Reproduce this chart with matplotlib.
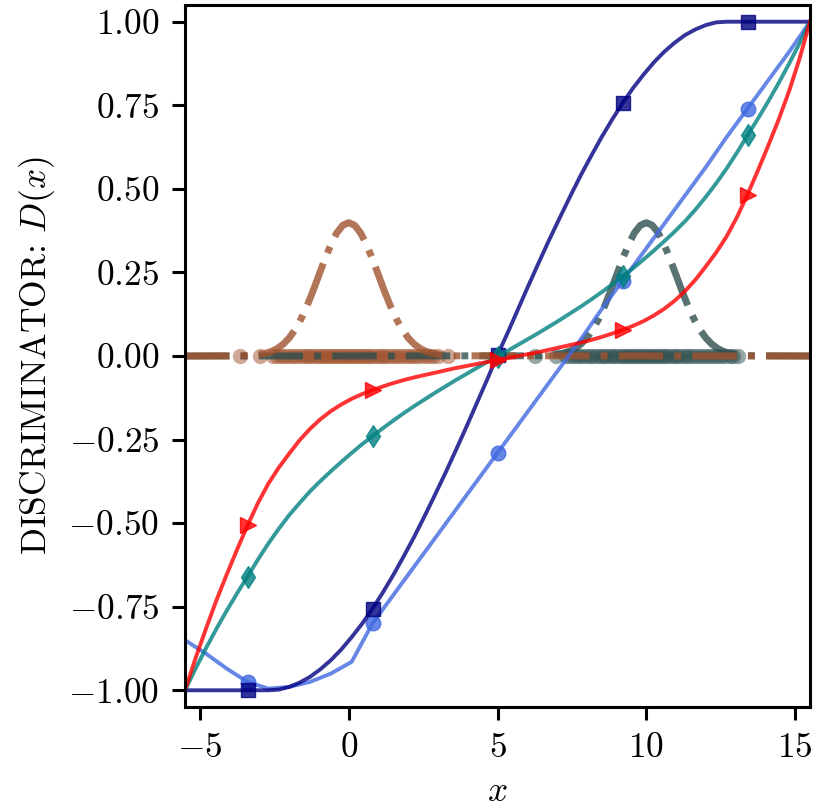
import numpy as np
import matplotlib
matplotlib.use("Agg")
import matplotlib.pyplot as plt

plt.rcParams['font.family'] = 'serif'
plt.rcParams['font.serif'] = ['cmr10']
plt.rcParams['mathtext.fontset'] = 'cm'
plt.rcParams['axes.formatter.use_mathtext'] = True
plt.rcParams['axes.unicode_minus'] = True

# ---- data ----
x_min, x_max = -5.5, 15.5
x_fine = np.linspace(x_min, x_max, 61)     # step 0.35
x_coarse = np.linspace(x_min, x_max, 31)   # step 0.7

d_lightblue = [-0.85, -0.89, -0.935, -0.975, -0.995, -0.99, -0.975, -0.95, -0.915, -0.80,
               -0.715, -0.63, -0.545, -0.46, -0.375, -0.29, -0.205, -0.12, -0.035, 0.05,
               0.14, 0.225, 0.31, 0.395, 0.48, 0.565, 0.655, 0.74, 0.825, 0.91, 1.0]

d_navy = [-1.0, -1.0, -1.0, -1.0, -1.0, -1.0, -1.0, -1.0, -1.0, -0.998,
          -0.990, -0.977, -0.960, -0.937, -0.910, -0.878, -0.841, -0.801, -0.756, -0.707,
          -0.655, -0.599, -0.541, -0.479, -0.415, -0.350, -0.282, -0.213, -0.142, -0.071,
          0.003,
          0.071, 0.142, 0.213, 0.282, 0.350, 0.415, 0.479, 0.541, 0.599, 0.655,
          0.707, 0.756, 0.801, 0.841, 0.878, 0.910, 0.937, 0.960, 0.977, 0.990,
          0.998, 1.0, 1.0, 1.0, 1.0, 1.0, 1.0, 1.0, 1.0, 1.0]

d_teal = [-1.0, -0.936, -0.875, -0.817, -0.762, -0.71, -0.66, -0.609, -0.561, -0.517,
          -0.476, -0.44, -0.405, -0.374, -0.345, -0.317, -0.29, -0.264, -0.24, -0.216,
          -0.193, -0.171, -0.15, -0.13, -0.11, -0.091, -0.072, -0.054, -0.036, -0.018,
          -0.002,
          0.016, 0.034, 0.052, 0.07, 0.089, 0.108, 0.128, 0.148, 0.169, 0.191,
          0.214, 0.238, 0.262, 0.288, 0.315, 0.343, 0.372, 0.403, 0.438, 0.476,
          0.517, 0.561, 0.609, 0.66, 0.71, 0.762, 0.817, 0.875, 0.936, 1.0]

d_red = [-1.0, -0.905, -0.817, -0.732, -0.654, -0.579, -0.507, -0.44, -0.382, -0.334,
         -0.292, -0.252, -0.218, -0.189, -0.165, -0.145, -0.128, -0.114, -0.102, -0.091,
         -0.081, -0.072, -0.064, -0.057, -0.05, -0.043, -0.036, -0.03, -0.024, -0.018,
         -0.012,
         -0.006, 0.0, 0.006, 0.012, 0.019, 0.026, 0.033, 0.04, 0.048, 0.057,
         0.067, 0.078, 0.09, 0.104, 0.121, 0.141, 0.165, 0.194, 0.228, 0.268,
         0.31, 0.358, 0.416, 0.483, 0.555, 0.63, 0.708, 0.793, 0.89, 1.0]

# density bumps (offset from the mean, height)
pdf_offsets = [-3.6, -3.4, -3.2, -3.0, -2.8, -2.6, -2.4, -2.2, -2.0, -1.8, -1.6, -1.4, -1.2,
               -1.0, -0.8, -0.6, -0.4, -0.2, 0.0, 0.2, 0.4, 0.6, 0.8, 1.0, 1.2, 1.4, 1.6,
               1.8, 2.0, 2.2, 2.4, 2.6, 2.8, 3.0, 3.2, 3.4, 3.6]
pdf_values = [0.0006, 0.0012, 0.0024, 0.0044, 0.0079, 0.0136, 0.0224, 0.0355, 0.054, 0.079,
              0.1109, 0.1497, 0.1942, 0.242, 0.2897, 0.3332, 0.3683, 0.391, 0.3989, 0.391,
              0.3683, 0.3332, 0.2897, 0.242, 0.1942, 0.1497, 0.1109, 0.079, 0.054, 0.0355,
              0.0224, 0.0136, 0.0079, 0.0044, 0.0024, 0.0012, 0.0006]
mean_generated = 0.0
mean_real = 10.0

samples_generated = [-3.65, -2.97, -2.55, -2.42, -2.29, -2.16, -2.03, -1.91, -1.79, -1.67,
                     -1.55, -1.44, -1.33, -1.22, -1.11, -1.0, -0.89, -0.79, -0.69, -0.59,
                     -0.49, -0.39, -0.29, -0.19, -0.09, 0.01, 0.11, 0.21, 0.31, 0.41, 0.51,
                     0.61, 0.72, 0.83, 0.94, 1.05, 1.16, 1.27, 1.39, 1.51, 1.63, 1.75, 1.88,
                     2.01, 2.14, 2.27, 2.41, 2.55, 2.69, 2.84, 3.0, 3.35]
samples_real = [6.25, 6.98, 7.3, 7.43, 7.56, 7.69, 7.82, 7.95, 8.07, 8.19, 8.31, 8.43,
                8.55, 8.66, 8.77, 8.88, 8.99, 9.1, 9.21, 9.31, 9.41, 9.51, 9.61, 9.71,
                9.81, 9.91, 10.01, 10.11, 10.21, 10.31, 10.41, 10.52, 10.63, 10.74,
                10.85, 10.96, 11.08, 11.2, 11.32, 11.44, 11.57, 11.7, 11.83, 11.96,
                12.1, 12.24, 12.38, 12.52, 12.66, 12.8, 12.9, 13.08]

# ---- figure ----
fig = plt.figure(figsize=(8.22, 8.08), dpi=100)
ax = fig.add_axes([185/822, 1-707/808, (810-185)/822, (707-5)/808])

def pdf_curve(mu):
    xs = [x_min] + [mu + o for o in pdf_offsets] + [x_max]
    ys = [0.0] + list(pdf_values) + [0.0]
    return xs, ys

ax.plot(samples_generated, [0.0]*len(samples_generated), 'o', color='sienna',
        alpha=0.5, markersize=11, markeredgewidth=0)
ax.plot(samples_real, [0.0]*len(samples_real), 'o', color='darkslategray',
        alpha=0.5, markersize=11, markeredgewidth=0)
xr, yr = pdf_curve(mean_real)
ax.plot(xr, yr, '-.', color='darkslategray', alpha=0.8, lw=5)
xg, yg = pdf_curve(mean_generated)
ax.plot(xg, yg, '-.', color='sienna', alpha=0.8, lw=5)

ax.plot(x_coarse, d_lightblue, '-o', color='royalblue', alpha=0.8, lw=2.8, ms=10.5,
        markevery=slice(3, None, 6))
mk = slice(6, None, 12)
ax.plot(x_fine, d_navy, '-s', color='navy', alpha=0.8, lw=2.8, ms=10, markevery=mk)
ax.plot(x_fine, d_teal, '-d', color='teal', alpha=0.8, lw=2.8, ms=11.5, markevery=mk)
ax.plot(x_fine, d_red, '->', color='red', alpha=0.8, lw=2.8, ms=11.5, markevery=mk)

ax.set_xlim(x_min, x_max)
ax.set_ylim(-1.05, 1.05)
ax.set_xticks([-5, 0, 5, 10, 15])
ax.set_yticks([-1.0, -0.75, -0.5, -0.25, 0.0, 0.25, 0.5, 0.75, 1.0])
ax.yaxis.set_major_formatter(matplotlib.ticker.FormatStrFormatter(r'$%.2f$'))
ax.xaxis.set_major_formatter(matplotlib.ticker.FormatStrFormatter(r'$%d$'))
ax.tick_params(axis='both', labelsize=25.5, length=9.5, width=2.2, pad=9)
for s in ax.spines.values():
    s.set_linewidth(2.2)
ax.set_xlabel(r'$x$', fontsize=25.5, labelpad=9)
ax.set_ylabel(r'DISCRIMINATOR: $D(x)$', fontsize=25.5, labelpad=8)

fig.savefig('out.png', dpi=100)
